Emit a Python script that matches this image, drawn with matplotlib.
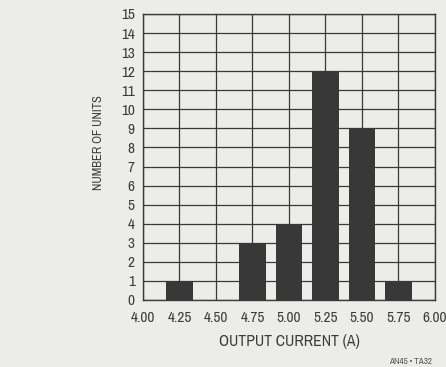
import matplotlib
matplotlib.use("Agg")
import matplotlib.pyplot as plt
from matplotlib import font_manager
import numpy as np

# output current bins (A) and number of units
currents = [4.25, 4.75, 5.00, 5.25, 5.50, 5.75]
units = [1, 3, 4, 12, 9, 1]
x_ticks = [4.00, 4.25, 4.50, 4.75, 5.00, 5.25, 5.50, 5.75, 6.00]
y_ticks = list(range(0, 16))

names = sorted({f.name for f in font_manager.fontManager.ttflist})
narrow = [n for n in names if 'Narrow' in n or 'Condensed' in n]
plt.rcParams['font.family'] = narrow[:1] + ['DejaVu Sans']
plt.rcParams['font.stretch'] = 'condensed'

bg = '#ececeb'
ink = '#3c3c3c'
fig = plt.figure(figsize=(4.46, 3.67), dpi=100, facecolor=bg)
ax = fig.add_axes([0.3206, 0.1826, 0.6547, 0.7793], facecolor=bg)

ax.bar(currents, units, width=0.18, color='#383838', zorder=3)

ax.set_xlim(4.0, 6.0)
ax.set_ylim(0, 15)
ax.set_xticks(x_ticks)
ax.set_xticklabels(['{:.2f}'.format(v) for v in x_ticks])
ax.set_yticks(y_ticks)
ax.grid(True, color='#3a3a3a', linewidth=0.9, zorder=1)
for s in ax.spines.values():
    s.set_color('#3a3a3a')
    s.set_linewidth(1.0)
ax.tick_params(length=0, labelsize=11, colors=ink)
ax.tick_params(axis='x', pad=8)
ax.tick_params(axis='y', pad=6)

ax.set_xlabel('OUTPUT CURRENT (A)', fontsize=11.3, color=ink)
ax.xaxis.set_label_coords(0.5, -0.118)
ax.set_ylabel('NUMBER OF UNITS', fontsize=9, color=ink)
ax.yaxis.set_label_coords(-0.135, 0.549)

fig.text(432 / 446, 1 - 366 / 367, 'AN45 • TA32', fontsize=6.5, color='#555555',
         ha='right', va='bottom')

fig.savefig('out.png', dpi=100, facecolor=bg)
